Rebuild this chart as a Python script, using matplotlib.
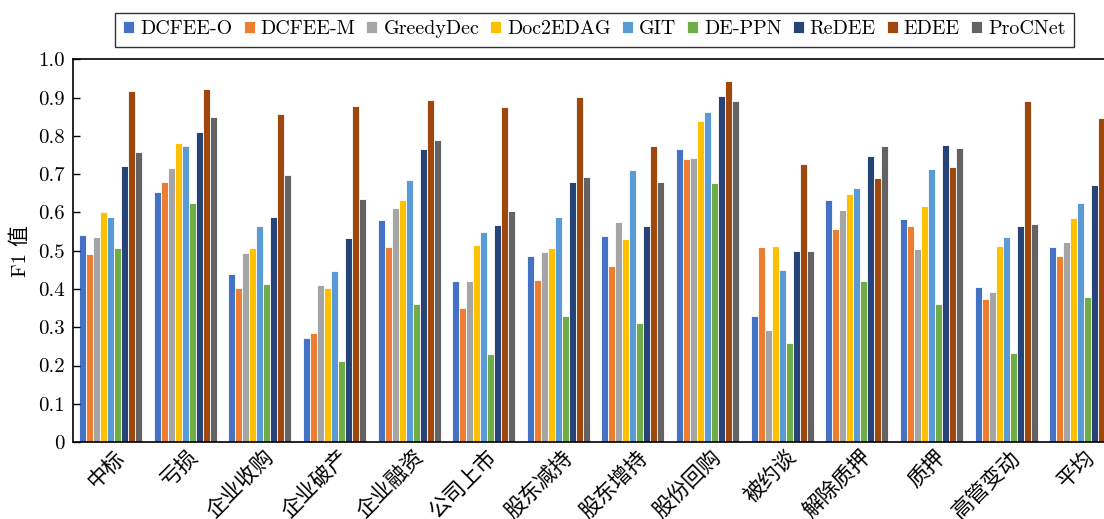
import matplotlib
matplotlib.use("Agg")
import matplotlib.pyplot as plt
import matplotlib.transforms as mtransforms
import numpy as np

categories = ["中标", "亏损", "企业收购", "企业破产", "企业融资", "公司上市", "股东减持",
              "股东增持", "股份回购", "被约谈", "解除质押", "质押", "高管变动", "平均"]
models = ["DCFEE-O", "DCFEE-M", "GreedyDec", "Doc2EDAG", "GIT", "DE-PPN", "ReDEE", "EDEE", "ProCNet"]

dcfee_o   = [0.540, 0.653, 0.439, 0.273, 0.581, 0.420, 0.487, 0.539, 0.766, 0.329, 0.632, 0.582, 0.406, 0.511]
dcfee_m   = [0.491, 0.679, 0.403, 0.284, 0.511, 0.351, 0.423, 0.459, 0.739, 0.509, 0.557, 0.564, 0.373, 0.487]
greedydec = [0.536, 0.717, 0.494, 0.411, 0.612, 0.421, 0.496, 0.574, 0.743, 0.292, 0.607, 0.504, 0.393, 0.522]
doc2edag  = [0.600, 0.783, 0.506, 0.402, 0.632, 0.514, 0.507, 0.530, 0.838, 0.512, 0.648, 0.616, 0.512, 0.585]
git       = [0.587, 0.775, 0.566, 0.446, 0.684, 0.550, 0.587, 0.711, 0.863, 0.449, 0.663, 0.713, 0.537, 0.626]
de_ppn    = [0.506, 0.626, 0.413, 0.213, 0.362, 0.230, 0.329, 0.312, 0.677, 0.258, 0.421, 0.362, 0.233, 0.380]
redee     = [0.721, 0.811, 0.587, 0.534, 0.766, 0.567, 0.681, 0.566, 0.905, 0.499, 0.749, 0.777, 0.566, 0.671]
edee      = [0.917, 0.923, 0.858, 0.879, 0.895, 0.876, 0.903, 0.775, 0.943, 0.728, 0.690, 0.718, 0.892, 0.846]
procnet   = [0.759, 0.849, 0.697, 0.634, 0.790, 0.605, 0.693, 0.681, 0.892, 0.500, 0.774, 0.769, 0.569, 0.700]

series = [dcfee_o, dcfee_m, greedydec, doc2edag, git, de_ppn, redee, edee, procnet]
colors = ["#4472C4", "#ED7D31", "#A5A5A5", "#FFC000", "#5B9BD5", "#70AD47", "#264478", "#9E480E", "#636363"]

yticks = [0, 0.1, 0.2, 0.3, 0.4, 0.5, 0.6, 0.7, 0.8, 0.9, 1.0]
yticklabels = ["0", "0.1", "0.2", "0.3", "0.4", "0.5", "0.6", "0.7", "0.8", "0.9", "1.0"]

plt.rcParams['font.family'] = ['cmr10', 'Noto Sans CJK SC', 'DejaVu Sans']
plt.rcParams['axes.formatter.use_mathtext'] = True

W, H = 1104, 519
fig = plt.figure(figsize=(W / 100, H / 100), dpi=100)
left_px, right_px, top_px, bottom_px = 73.3, 1118.0, 59.5, 442.0
ax = fig.add_axes([left_px / W, (H - bottom_px) / H, (right_px - left_px) / W, (bottom_px - top_px) / H])

x = np.arange(len(categories))
slot = 0.0937
n = len(series)
for i, (vals, col, name) in enumerate(zip(series, colors, models)):
    offs = (i - (n - 1) / 2) * slot
    ax.bar(x + offs, vals, width=slot, color=col, edgecolor="white", linewidth=0.6, label=name)

ax.set_xlim(-0.5, len(categories) - 0.5)
ax.set_ylim(0, 1.0)
ax.set_yticks(yticks)
ax.set_yticklabels(yticklabels, fontsize=15)
ax.tick_params(axis='y', direction='in', length=5, width=1.0, pad=6)
ax.set_xticks(x)
ax.set_xticklabels(categories, rotation=45, ha='right', va='top', rotation_mode='anchor',
                   fontsize=15.5, family=['Noto Sans CJK SC'])
ax.tick_params(axis='x', length=0, pad=3)
shift = mtransforms.ScaledTranslation(3 / 100, 0, fig.dpi_scale_trans)
for lbl in ax.get_xticklabels():
    lbl.set_transform(lbl.get_transform() + shift)
for s in ax.spines.values():
    s.set_linewidth(1.2)
    s.set_color("black")

ax.set_ylabel("F1 值", fontsize=15, labelpad=6)

leg = fig.legend(loc='center', bbox_to_anchor=(594.5 / W, 1 - 29.5 / H), ncol=9, fontsize=14.4,
                 frameon=True, fancybox=False, edgecolor='black', handlelength=0.55,
                 handleheight=0.55, handletextpad=0.3, columnspacing=0.55, borderpad=0.4)
leg.get_frame().set_linewidth(1.0)

fig.savefig("out.png", dpi=100)
